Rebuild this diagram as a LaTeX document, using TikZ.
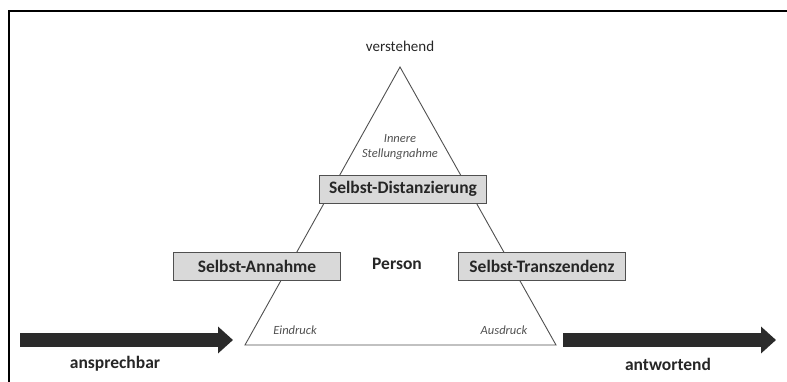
\documentclass[tikz,border=0pt]{standalone}
\usepackage{fontspec}
\setmainfont{Carlito}
\usetikzlibrary{arrows.meta}
\definecolor{boxfill}{HTML}{D9D9D9}
\definecolor{lineg}{HTML}{505050}
\definecolor{arrowc}{HTML}{2B2B2B}
\definecolor{txtg}{HTML}{505050}
\tikzset{
  pbox/.style={draw=lineg, line width=0.9pt, fill=boxfill, minimum width=167pt, minimum height=28pt, inner sep=0pt, font=\fontsize{17.5}{19}\selectfont\bfseries, text=black!85},
  lbl/.style={inner sep=0pt, font=\fontsize{17.5}{19}\selectfont\bfseries, text=black!85},
  ital/.style={inner sep=0pt, font=\fontsize{12.5}{15.5}\selectfont\itshape, text=txtg, align=center},
  top/.style={inner sep=0pt, font=\fontsize{15}{17}\selectfont, text=black!85},
  bigarrow/.style={draw=arrowc, line width=14pt, -{Triangle[length=15pt,width=26pt]}},
  tri/.style={draw=lineg, line width=0.9pt},
}
\begin{document}
\begin{tikzpicture}[x=1pt,y=-1pt]
\useasboundingbox (0,0) rectangle (787,382);
\draw[black, line width=1.3pt] (9,11) rectangle (800,400);
% triangle
\coordinate (apex) at (400,67);
\coordinate (bl) at (245,345);
\coordinate (br) at (556,345);
\draw[tri] (apex) -- (br) -- (bl) -- cycle;
% labels
\node[top] (verst) at (400,46) {verstehend};
\node[ital] (innere) at (400,147) {Innere\\[-1pt]Stellungnahme};
\node[pbox] (dist) at (403,189) {Selbst-Distanzierung};
\node[pbox] (ann) at (257,266) {Selbst-Annahme};
\node[pbox] (trans) at (542,266) {Selbst-Transzendenz};
\node[lbl] (person) at (397,264) {Person};
\node[ital] (ein) at (295,330) {Eindruck};
\node[ital] (aus) at (504,330) {Ausdruck};
% arrows
\coordinate (la) at (20,340);
\coordinate (lb) at (233,340);
\coordinate (ra) at (563,340);
\coordinate (rb) at (776,340);
\draw[bigarrow] (la) -- (lb);
\draw[bigarrow] (ra) -- (rb);
\node[lbl] (ansp) at (115,364) {ansprechbar};
\node[lbl] (antw) at (668,364) {antwortend};
\end{tikzpicture}
\end{document}
